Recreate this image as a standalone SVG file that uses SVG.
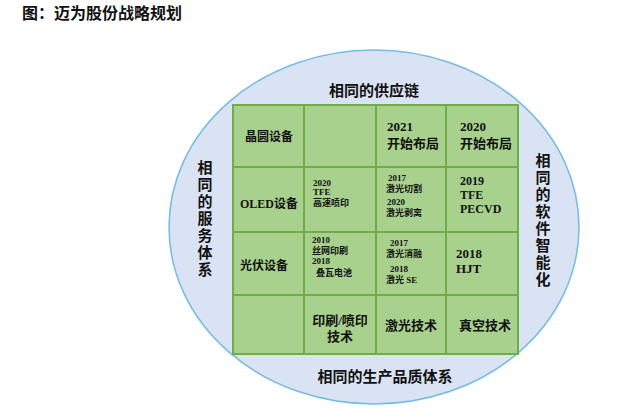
<svg xmlns="http://www.w3.org/2000/svg" width="640" height="409" viewBox="0 0 640 409">
<style>
.t{font-family:"Liberation Serif","Noto Sans CJK SC",serif;font-weight:bold;fill:#111}
.c{font-family:"Liberation Serif","Noto Sans CJK SC",serif;font-weight:bold;fill:#111}
.s{font-size:9px}
.m{font-size:12px}
.l{font-size:13px}
.g{fill:none;stroke:#70AD47;stroke-width:2}
</style>
<rect width="640" height="409" fill="#fff"/>
<text class="t" x="22" y="19" font-size="16">图：迈为股份战略规划</text>
<g id="ellipse">
<ellipse cx="374" cy="227" rx="205" ry="177" fill="#DAE3F3" stroke="#74BBE6" stroke-width="1.5"/>
<text class="t" x="374" y="96" font-size="15" text-anchor="middle">相同的供应链</text>
<text class="t" x="385" y="382" font-size="15" text-anchor="middle">相同的生产品质体系</text>
<text class="t" font-size="15" text-anchor="middle"><tspan x="205" y="173">相</tspan><tspan x="205" y="190">同</tspan><tspan x="205" y="207">的</tspan><tspan x="205" y="224">服</tspan><tspan x="205" y="241">务</tspan><tspan x="205" y="258">体</tspan><tspan x="205" y="275">系</tspan></text>
<text class="t" font-size="15" text-anchor="middle"><tspan x="543" y="166">相</tspan><tspan x="543" y="183">同</tspan><tspan x="543" y="200">的</tspan><tspan x="543" y="217">软</tspan><tspan x="543" y="234">件</tspan><tspan x="543" y="251">智</tspan><tspan x="543" y="268">能</tspan><tspan x="543" y="285">化</tspan></text>
</g>
<g id="grid">
<rect x="233" y="105" width="285" height="249" fill="#A9D18E"/>
<rect class="g" x="233" y="105" width="285" height="249"/>
<path class="g" d="M304 105V354M376 105V354M446 105V354M233 167H518M233 232H518M233 295H518"/>
</g>
<g id="row1">
<text class="c m" x="245" y="141">晶圆设备</text>
<text class="c l" x="387" y="131">2021</text>
<text class="c l" x="387" y="148">开始布局</text>
<text class="c l" x="460" y="131">2020</text>
<text class="c l" x="460" y="148">开始布局</text>
</g>
<g id="row2">
<text class="c m" x="240" y="208">OLED设备</text>
<text class="c s" x="313" y="186">2020</text>
<text class="c s" x="313" y="195">TFE</text>
<text class="c s" x="313" y="206">高速喷印</text>
<text class="c s" x="388" y="181">2017</text>
<text class="c s" x="386" y="192">激光切割</text>
<text class="c s" x="387" y="205">2020</text>
<text class="c s" x="386" y="216">激光剥离</text>
<text class="c m" x="460" y="185">2019</text>
<text class="c m" x="460" y="199">TFE</text>
<text class="c m" x="460" y="213">PECVD</text>
</g>
<g id="row3">
<text class="c m" x="240" y="270">光伏设备</text>
<text class="c s" x="312" y="243">2010</text>
<text class="c s" x="312" y="254">丝网印刷</text>
<text class="c s" x="312" y="264">2018</text>
<text class="c s" x="316" y="276">叠瓦电池</text>
<text class="c s" x="390" y="246">2017</text>
<text class="c s" x="386" y="257">激光消融</text>
<text class="c s" x="390" y="272">2018</text>
<text class="c s" x="386" y="283">激光 SE</text>
<text class="c l" x="456" y="258">2018</text>
<text class="c l" x="456" y="273">HJT</text>
</g>
<g id="row4">
<text class="c l" x="340" y="325" text-anchor="middle">印刷/喷印</text>
<text class="c l" x="340" y="341" text-anchor="middle">技术</text>
<text class="c l" x="385" y="330">激光技术</text>
<text class="c l" x="459" y="330">真空技术</text>
</g>
</svg>
